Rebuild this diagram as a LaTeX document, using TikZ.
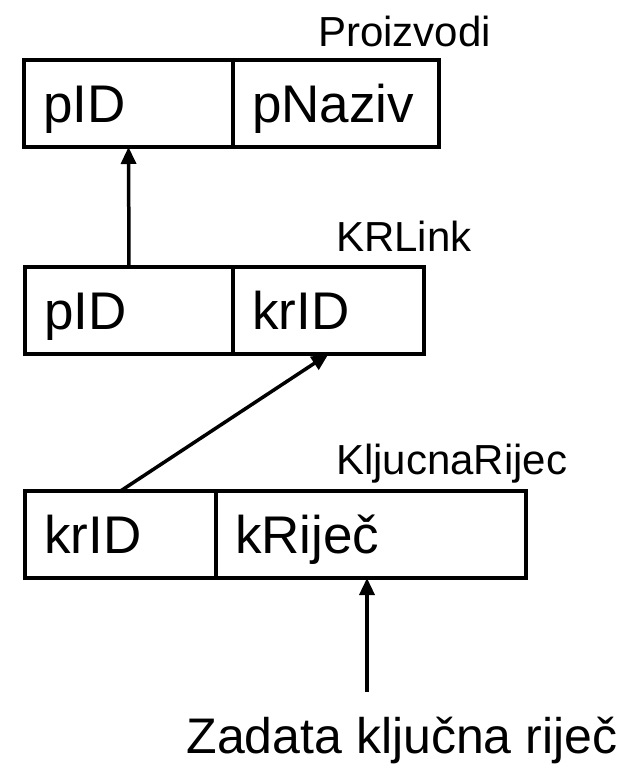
\documentclass[tikz,border=0pt]{standalone}
\usepackage{fontspec}
\setmainfont{Liberation Sans}
\usetikzlibrary{arrows.meta,calc}
\begin{document}
\begin{tikzpicture}[x=1pt,y=-1pt,
  cell/.style={draw,line width=3.5pt,minimum height=87pt,inner sep=0pt,outer sep=0pt},
  field/.style={anchor=base west,inner sep=0pt,font=\fontsize{53}{62}\selectfont},
  caption/.style={anchor=base,inner sep=0pt,font=\fontsize{50}{60}\selectfont},
  tname/.style={anchor=base west,inner sep=0pt,font=\fontsize{42}{50}\selectfont},
  arr/.style={line width=3.5pt,-{Triangle[length=17pt,width=15pt]}}]
\useasboundingbox (0,0) rectangle (621,764);
% cells
\node[cell,minimum width=209pt] (p1) at (128.5,103.5) {};
\node[cell,minimum width=206pt] (n1) at (336,103.5) {};
\node[cell,minimum width=208pt] (p2) at (129,310.5) {};
\node[cell,minimum width=191pt] (k2) at (328.5,310.5) {};
\node[cell,minimum width=191pt] (k3) at (120.5,534.5) {};
\node[cell,minimum width=310pt] (r3) at (371,534.5) {};
% field texts
\node[field] (tp1) at ($(p1.south west)+(19,-25)$) {pID};
\node[field] (tn1) at ($(n1.south west)+(19,-25)$) {pNaziv};
\node[field] (tp2) at ($(p2.south west)+(19,-25)$) {pID};
\node[field] (tk2) at ($(k2.south west)+(19,-25)$) {krID};
\node[field] (tk3) at ($(k3.south west)+(19,-25)$) {krID};
\node[field] (tr3) at ($(r3.south west)+(19,-25)$) {kRiječ};
% table names
\node[tname] (l1) at (318,46) {Proizvodi};
\node[tname] (l2) at (336,251) {KRLink};
\node[tname] (l3) at (336,474) {KljucnaRijec};
% arrows
\draw[arr] (p2.north) -- (p1.south);
\draw[arr] (k3.north) -- (k2.south);
\coordinate (s) at (367,692);
\draw[arr] (s) -- (s |- r3.south);
% bottom text
\node[caption] (z) at (402,753) {Zadata ključna riječ};
\end{tikzpicture}
\end{document}
